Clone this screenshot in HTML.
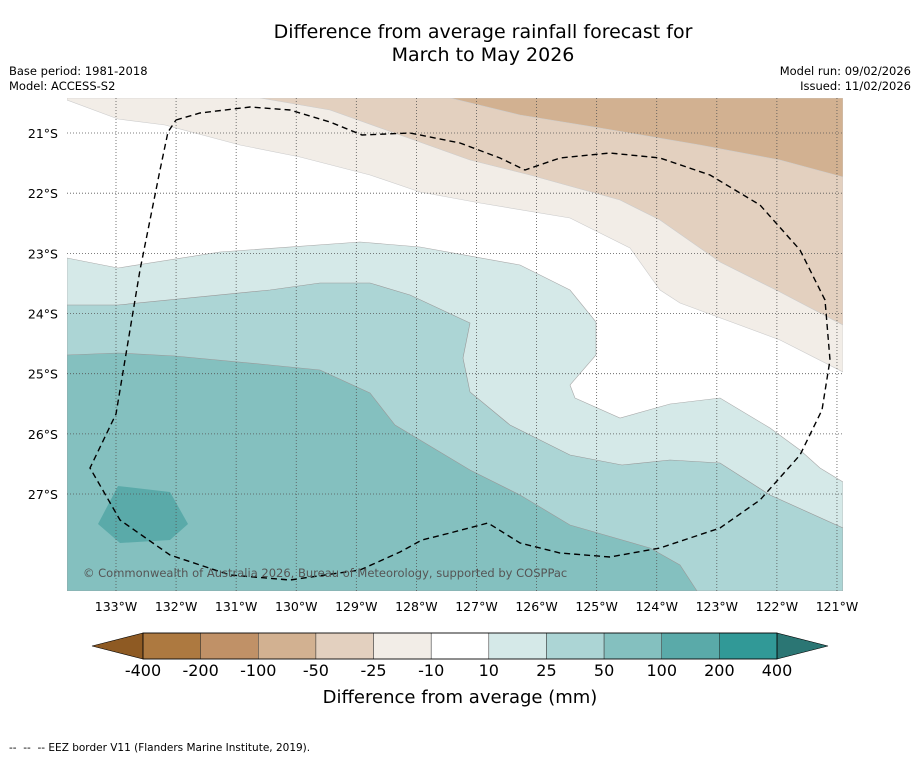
<!DOCTYPE html>
<html><head><meta charset="utf-8"><style>
body{margin:0;background:#fff;font-family:"DejaVu Sans","Liberation Sans",sans-serif}
</style></head><body>
<svg width="919" height="758" xmlns="http://www.w3.org/2000/svg" font-family="DejaVu Sans, Liberation Sans, sans-serif">
<text x="483" y="38" font-size="19" text-anchor="middle">Difference from average rainfall forecast for</text>
<text x="483" y="61" font-size="19" text-anchor="middle">March to May 2026</text>
<text x="9" y="75" font-size="11.5">Base period: 1981-2018</text>
<text x="9" y="90" font-size="11.5">Model: ACCESS-S2</text>
<text x="911" y="75" font-size="11.5" text-anchor="end">Model run: 09/02/2026</text>
<text x="911" y="90" font-size="11.5" text-anchor="end">Issued: 11/02/2026</text>
<defs><clipPath id="mc"><rect x="67" y="98" width="776" height="493"/></clipPath></defs>
<g clip-path="url(#mc)">
<rect x="67" y="98" width="776" height="493" fill="#fff"/>
<polygon fill="#f2ede7" stroke="#ccc" stroke-width="0.6" points="67,100 118,119 165,125 240,145 300,157 370,175 420,192 480,203 570,218 630,248 660,290 680,303 780,340 843,372 843,98 67,98"/>
<polygon fill="#e3d0bf" stroke="#ccc" stroke-width="0.6" points="260,98 330,110 400,135 470,160 530,175 620,200 660,220 720,262 780,292 843,325 843,98"/>
<polygon fill="#d2b191" stroke="#ccc" stroke-width="0.6" points="450,98 520,115 600,128 700,145 780,160 843,177 843,98"/>
<polygon fill="#d5e9e8" stroke="#aaa" stroke-width="0.6" points="67,258 118,268 220,252 360,242 420,247 520,265 570,290 596,322 596,355 570,385 575,398 620,418 670,404 720,398 770,428 800,450 820,468 843,482 843,591 67,591"/>
<polygon fill="#acd5d5" stroke="#999" stroke-width="0.6" points="67,305 118,305 270,290 320,283 370,283 410,295 470,323 463,358 470,392 510,425 570,455 622,465 670,460 720,463 770,495 843,528 843,591 67,591"/>
<polygon fill="#84c0bf" stroke="#999" stroke-width="0.6" points="67,355 118,353 175,356 270,365 320,370 370,393 395,425 470,470 520,495 570,525 650,548 680,565 697,591 67,591"/>
<polygon fill="#5aaaa9" points="118,486 170,492 188,524 170,540 120,543 98,524"/>
<g id="grid" stroke="#555" stroke-width="0.8" stroke-dasharray="1,2"></g>
<polyline fill="none" stroke="#000" stroke-width="1.4" stroke-dasharray="6,4" points="176,120 200,113 250,107 290,110 330,122 362,135 410,133 460,143 500,158 525,170 560,158 610,153 660,158 710,175 760,205 800,250 825,300 830,360 822,410 800,455 760,500 720,528 660,548 610,557 560,553 520,543 488,523 450,533 422,540 400,552 360,570 290,580 230,575 170,555 120,520 90,468 116,414 140,270 160,170 168,132 176,120"/>
<text x="83" y="577" font-size="11.5" fill="#555">© Commonwealth of Australia 2026, Bureau of Meteorology, supported by COSPPac</text>
</g>
<g id="axes" font-size="12.5"></g>
<g id="cbar"></g>
<text x="460" y="703" font-size="18" text-anchor="middle">Difference from average (mm)</text>
<text x="9" y="751" font-size="10.5" xml:space="preserve">--  --  -- EEZ border V11 (Flanders Marine Institute, 2019).</text>
</svg>
<script>
const lonLabels=["133°W","132°W","131°W","130°W","129°W","128°W","127°W","126°W","125°W","124°W","123°W","122°W","121°W"];
const latLabels=["21°S","22°S","23°S","24°S","25°S","26°S","27°S"];
const cbLevels=["-400","-200","-100","-50","-25","-10","10","25","50","100","200","400"];
const cbColors=["#ad7940","#c09167","#d2b191","#e3d0bf","#f2ede7","#ffffff","#d5e9e8","#acd5d5","#84c0bf","#5aaaa9","#319997"];
const ns="http://www.w3.org/2000/svg";
const lonX=i=>116+i*60.08, latY=i=>133+i*60.17;
const grid=document.getElementById('grid'), axes=document.getElementById('axes'), cb=document.getElementById('cbar');
function mk(tag,attrs,parent){const e=document.createElementNS(ns,tag);for(const k in attrs)e.setAttribute(k,attrs[k]);parent.appendChild(e);return e;}
lonLabels.forEach((l,i)=>{
 const ln=mk('line',{x1:lonX(i),x2:lonX(i),y1:98,y2:591},grid);
 
 
 const t=mk('text',{x:lonX(i),y:611,'text-anchor':'middle'},axes);t.textContent=l;
 
 
});
latLabels.forEach((l,i)=>{
 const ln=mk('line',{x1:67,x2:843,y1:latY(i),y2:latY(i)},grid);
 
 
 const t=mk('text',{x:58,y:latY(i)+5,'text-anchor':'end'},axes);t.textContent=l;
 
 
});
const x0=143,x1=777,y0=633,h=26,w=(x1-x0)/cbColors.length;
const lt=mk('polygon',{points:`92,${y0+h/2} ${x0},${y0} ${x0},${y0+h}`,fill:'#8e5a23',stroke:'#000','stroke-width':0.6},cb);


const rt=mk('polygon',{points:`828,${y0+h/2} ${x1},${y0} ${x1},${y0+h}`,fill:'#2b7674',stroke:'#000','stroke-width':0.6},cb);


cbColors.forEach((c,i)=>{
 const r=mk('rect',{x:x0+i*w,y:y0,width:w,height:h,fill:c,stroke:'#333','stroke-width':0.5},cb);
 
 
});
mk('rect',{x:x0,y:y0,width:x1-x0,height:h,fill:'none',stroke:'#000','stroke-width':0.8},cb);
cbLevels.forEach((l,i)=>{
 const t=mk('text',{x:x0+i*w,y:676,'font-size':16,'text-anchor':'middle'},cb);t.textContent=l;
 
 
});
</script>
</body></html>
